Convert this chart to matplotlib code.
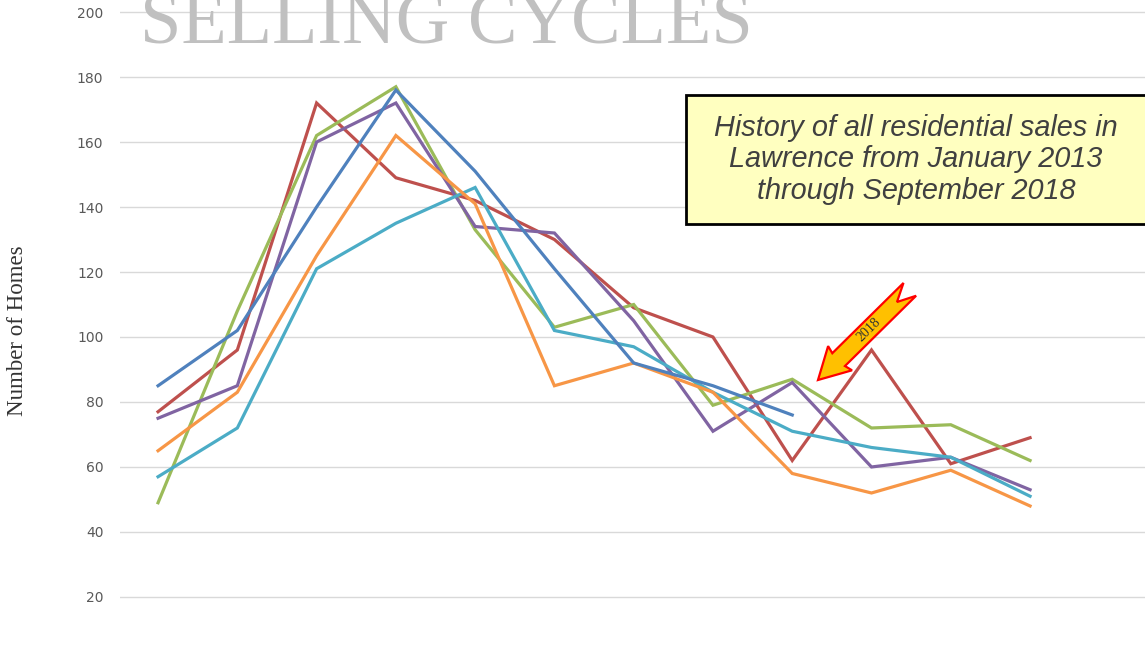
import matplotlib
matplotlib.use("Agg")
import matplotlib.pyplot as plt
from matplotlib.patches import Polygon, Rectangle
import numpy as np

# Monthly home sales, one line per year (blue is the partial 2018 year)
months = ["Jan", "Feb", "Mar", "Apr", "May", "Jun", "Jul", "Aug", "Sep", "Oct", "Nov", "Dec"]
series_names = ["2013", "2014", "2015", "2016", "2017", "2018"]
sales_2013 = [77, 96, 172, 149, 142, 130, 109, 100, 62, 96, 61, 69]
sales_2014 = [49, 108, 162, 177, 133, 103, 110, 79, 87, 72, 73, 62]
sales_2015 = [75, 85, 160, 172, 134, 132, 105, 71, 86, 60, 63, 53]
sales_2016 = [57, 72, 121, 135, 146, 102, 97, 83, 71, 66, 63, 51]
sales_2017 = [65, 83, 125, 162, 141, 85, 92, 83, 58, 52, 59, 48]
sales_2018 = [85, 102, 140, 176, 151, 121, 92, 85, 76]
colors = ["#BE504D", "#9BBB59", "#8064A2", "#4BACC6", "#F79646", "#4F81BD"]
y_ticks = [20, 40, 60, 80, 100, 120, 140, 160, 180, 200]

W, H = 1145, 653
fig = plt.figure(figsize=(W / 100, H / 100), dpi=100)
# 3.25 px per unit, small margin so the 20 and 200 gridlines are not clipped
ax = fig.add_axes([120 / W, (H - 598.6) / H, 1 - 120 / W, (598.6 - 10.4) / H])

all_series = [sales_2013, sales_2014, sales_2015, sales_2016, sales_2017, sales_2018]
for name, vals, c in zip(series_names, all_series, colors):
    ax.plot(np.arange(len(vals)), vals, color=c, lw=2.3, label=name,
            solid_joinstyle="miter", zorder=3)

ax.set_ylim(19.5, 200.5)
ax.set_xlim(-0.48, 12.45)
ax.set_yticks(y_ticks)
ax.set_xticks([])
ax.grid(axis="y", color="#D9D9D9", lw=1)
ax.set_axisbelow(True)
for s in ax.spines.values():
    s.set_visible(False)
ax.tick_params(axis="y", length=0, pad=12, labelsize=10, labelcolor="#595959")

fig.text(18 / W, 1 - 331 / H, "Number of Homes", rotation=90, ha="center", va="center",
         family="Liberation Serif", fontsize=16.5, color="#333333")

# big faded title, cut off by the top edge (as in the original slide)
fig.text(140 / W, 1 - 43 / H, "SELLING CYCLES", ha="left", va="baseline",
         family="Liberation Serif", fontsize=53.5, color="#C0C0C0")


# helper: image pixel (y measured down from top) -> figure fraction
def px(x, y):
    return (x / W, 1 - y / H)


# yellow note box
x0, y0 = px(686, 224)
fig.add_artist(Rectangle((x0, y0), (W - 686 + 10) / W, (224 - 95) / H,
                         transform=fig.transFigure, facecolor="#FFFFC0",
                         edgecolor="black", lw=2, zorder=5))
note = ["History of all residential sales in",
        "Lawrence from January 2013",
        "through September 2018"]
for i, line in enumerate(note):
    fig.text(916 / W, 1 - (128 + 31.5 * i) / H, line, ha="center", va="center",
             family="Liberation Sans", style="italic", fontsize=20.8,
             color="#404040", zorder=6)

# notched block arrow pointing at the 2018 line
tip = np.array([818.0, 380.0])
u = np.array([0.712, -0.703])
u = u / np.linalg.norm(u)
n = np.array([-u[1], u[0]])
shape = [(0, 0), (31, 17), (29, 9), (129, 9), (111, 0), (129, -9), (29, -9), (31, -17)]
pts = [px(*(tip + a * u + b * n)) for a, b in shape]
fig.add_artist(Polygon(pts, closed=True, transform=fig.transFigure,
                       facecolor="#FFC000", edgecolor="#FF0000", lw=1.6, zorder=6))
lx, ly = px(*(tip + 72 * u))
fig.text(lx, ly, "2018", rotation=44.6, ha="center", va="center",
         family="Liberation Serif", fontsize=10, color="#333333", zorder=7)

fig.savefig("out.png", dpi=100)
